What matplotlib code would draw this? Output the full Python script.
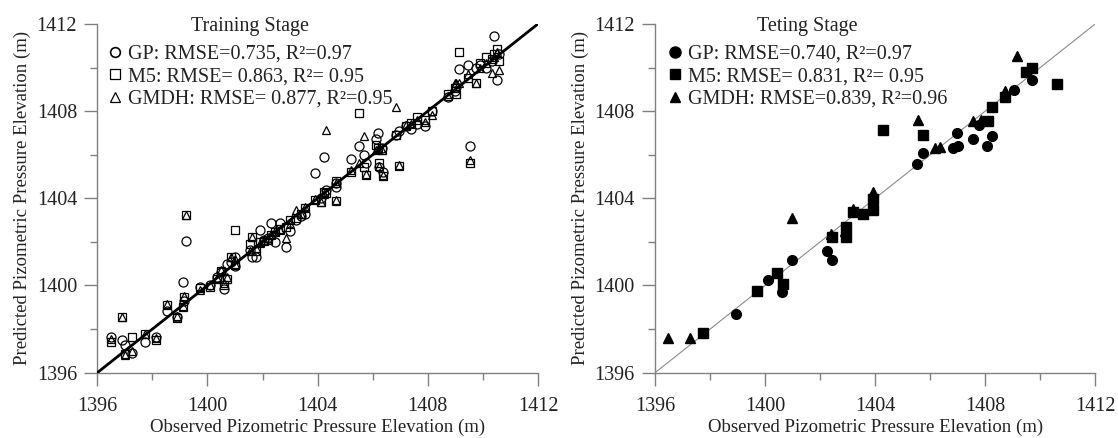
import matplotlib
matplotlib.use("Agg")
import matplotlib.pyplot as plt
from matplotlib.lines import Line2D
from matplotlib.ticker import MultipleLocator

plt.rcParams['font.family'] = ['Liberation Serif', 'DejaVu Serif']
plt.rcParams['mathtext.fontset'] = 'stix'

# ---------------- Training data ----------------
train_observed = [1396.5, 1396.9, 1397.0, 1397.25, 1397.73, 1398.15, 1398.54, 1398.88, 1399.12, 1399.15,
                  1399.21, 1399.72, 1400.08, 1400.33, 1400.5, 1400.6, 1400.7, 1400.87, 1400.99, 1401.0,
                  1401.53, 1401.6, 1401.78, 1401.9, 1402.05, 1402.2, 1402.32, 1402.45, 1402.62, 1402.86,
                  1403.0, 1403.2, 1403.4, 1403.53, 1403.89, 1404.13, 1404.24, 1404.29, 1404.65, 1404.67,
                  1405.22, 1405.52, 1405.7, 1405.76, 1406.12, 1406.2, 1406.24, 1406.35, 1406.39, 1406.85,
                  1406.97, 1407.2, 1407.4, 1407.6, 1407.9, 1408.16, 1408.72, 1409.0, 1409.02, 1409.14,
                  1409.47, 1409.54, 1409.75, 1409.9, 1410.1, 1410.34, 1410.41, 1410.53, 1410.6]
train_gp = [1397.65, 1397.5, 1397.27, 1396.89, 1397.42, 1397.65, 1398.84, 1398.55, 1400.15, 1399.3,
            1402.06, 1399.92, 1400.0, 1400.4, 1400.6, 1399.85, 1401.0, 1401.1, 1400.9, 1401.3,
            1401.63, 1401.3, 1401.32, 1402.55, 1402.1, 1402.2, 1402.85, 1402.0, 1402.85, 1401.78,
            1402.5, 1403.0, 1403.2, 1403.3, 1405.17, 1404.0, 1405.9, 1404.4, 1404.53, 1404.7,
            1405.79, 1406.4, 1405.99, 1405.6, 1406.7, 1407.0, 1405.42, 1406.3, 1405.2, 1406.9,
            1407.1, 1407.3, 1407.2, 1407.4, 1407.3, 1408.0, 1408.66, 1408.9, 1409.1, 1409.93,
            1410.11, 1406.4, 1409.99, 1410.1, 1410.0, 1410.3, 1411.45, 1409.43, 1410.6]
train_m5 = [1397.42, 1398.57, 1396.85, 1397.65, 1397.78, 1397.5, 1399.1, 1398.5, 1399.03, 1399.49,
            1403.23, 1399.9, 1399.92, 1400.3, 1400.65, 1400.0, 1400.3, 1401.32, 1402.55, 1400.94,
            1401.9, 1402.24, 1401.6, 1402.0, 1402.05, 1402.1, 1402.3, 1402.45, 1402.6, 1402.7,
            1403.0, 1403.1, 1403.3, 1403.54, 1403.9, 1403.84, 1404.3, 1404.25, 1403.89, 1404.8,
            1405.22, 1407.9, 1405.45, 1405.07, 1406.45, 1406.3, 1405.6, 1406.2, 1405.02, 1406.9,
            1405.48, 1407.3, 1407.45, 1407.74, 1407.6, 1408.0, 1408.8, 1409.05, 1408.77, 1410.73,
            1409.5, 1405.6, 1409.27, 1410.2, 1410.5, 1410.4, 1410.6, 1410.85, 1410.3]
train_gmdh = [1397.55, 1398.57, 1396.8, 1397.0, 1397.78, 1397.6, 1399.15, 1398.6, 1399.05, 1399.5,
              1403.23, 1399.8, 1400.0, 1400.35, 1400.7, 1400.1, 1400.4, 1401.3, 1401.0, 1401.2,
              1401.6, 1402.24, 1401.7, 1401.95, 1402.1, 1402.2, 1402.35, 1402.5, 1402.55, 1402.2,
              1402.8, 1403.46, 1403.3, 1403.6, 1403.95, 1403.84, 1404.2, 1407.13, 1403.9, 1404.69,
              1405.3, 1405.6, 1406.86, 1405.1, 1406.2, 1406.25, 1405.5, 1406.2, 1405.05, 1408.2,
              1405.55, 1407.35, 1407.4, 1407.6, 1407.5, 1407.82, 1408.7, 1409.27, 1409.27, 1409.3,
              1409.7, 1405.75, 1409.3, 1410.0, 1410.2, 1409.75, 1410.5, 1410.7, 1409.9]

# ---------------- Testing data ----------------
test_gp_obs = [1398.93, 1400.12, 1400.63, 1400.99, 1402.24, 1402.42, 1403.2, 1403.91, 1403.91, 1405.51,
               1405.75, 1406.82, 1407.02, 1406.96, 1407.57, 1407.77, 1408.07, 1408.23, 1409.06, 1409.69]
test_gp_pred = [1398.69, 1400.25, 1399.69, 1401.17, 1401.6, 1401.17, 1403.39, 1403.5, 1403.7, 1405.56,
                1406.06, 1406.32, 1406.41, 1406.98, 1406.71, 1407.36, 1406.4, 1406.86, 1408.97, 1409.43]
test_m5_obs = [1397.73, 1399.69, 1400.42, 1400.64, 1402.42, 1402.93, 1402.93, 1403.2, 1403.57, 1403.91,
               1403.91, 1404.27, 1405.75, 1408.09, 1408.23, 1408.72, 1409.48, 1409.69, 1410.6]
test_m5_pred = [1397.83, 1399.76, 1400.56, 1400.07, 1402.21, 1402.67, 1402.24, 1403.39, 1403.27, 1403.95,
                1403.45, 1407.13, 1406.9, 1407.56, 1408.2, 1408.66, 1409.81, 1409.96, 1409.24]
test_gmdh_obs = [1396.48, 1397.27, 1400.99, 1402.4, 1402.9, 1403.2, 1403.91, 1405.57, 1406.17, 1406.36,
                 1407.57, 1407.84, 1408.72, 1409.17]
test_gmdh_pred = [1397.58, 1397.58, 1403.08, 1402.35, 1402.5, 1403.5, 1404.3, 1407.59, 1406.29, 1406.34,
                  1407.56, 1407.59, 1408.94, 1410.53]

axis_min, axis_max = 1396, 1412
ticks = [1396, 1400, 1404, 1408, 1412]
xlabel = "Observed Pizometric Pressure Elevation (m)"
ylabel = "Predicted Pizometric Pressure Elevation (m)"

train_labels = ["GP: RMSE=0.735, R\u00b2=0.97", "M5: RMSE= 0.863, R\u00b2= 0.95", "GMDH: RMSE= 0.877, R\u00b2=0.95"]
test_labels = ["GP: RMSE=0.740, R\u00b2=0.97", "M5: RMSE= 0.831, R\u00b2= 0.95", "GMDH: RMSE=0.839, R\u00b2=0.96"]

fig = plt.figure(figsize=(11.18, 4.38), dpi=100)
ax1 = fig.add_axes([0.0870, 0.1491, 0.3942, 0.7963])
ax2 = fig.add_axes([0.5859, 0.1491, 0.3938, 0.7963])

spine_col = '#808080'
txt_col = '#222222'


def style(ax):
    ax.set_xlim(axis_min, axis_max)
    ax.set_ylim(axis_min, axis_max)
    ax.set_xticks(ticks)
    ax.set_yticks(ticks)
    ax.xaxis.set_minor_locator(MultipleLocator(2))
    ax.yaxis.set_minor_locator(MultipleLocator(2))
    for s in ['top', 'right']:
        ax.spines[s].set_visible(False)
    for s in ['left', 'bottom']:
        ax.spines[s].set_color(spine_col)
        ax.spines[s].set_linewidth(1.0)
    ax.tick_params(which='major', direction='out', length=9.5, width=1.0, color=spine_col,
                   labelsize=14.5, labelcolor=txt_col)
    ax.tick_params(axis='x', which='major', pad=8)
    ax.tick_params(axis='y', which='major', pad=5)
    ax.tick_params(which='minor', direction='out', length=5, width=1.0, color=spine_col)
    ax.set_xlabel(xlabel, fontsize=13.5, color=txt_col, labelpad=2)
    ax.set_ylabel(ylabel, fontsize=13.5, color=txt_col, labelpad=4)


ms = 6.5
# Training
ax1.plot([axis_min, axis_max], [axis_min, axis_max], color='black', lw=2.0, zorder=3)
ax1.plot(train_observed, train_gp, linestyle='none', marker='o', ms=ms, mfc='none', mec='black', mew=0.9, zorder=4)
ax1.plot(train_observed, train_m5, linestyle='none', marker='s', ms=ms - 0.5, mfc='none', mec='black', mew=0.9, zorder=4)
ax1.plot(train_observed, train_gmdh, linestyle='none', marker='^', ms=ms - 1, mfc='none', mec='black', mew=0.9, zorder=4)
style(ax1)

h1 = [Line2D([], [], linestyle='none', marker='o', ms=7, mfc='none', mec='black', mew=1.2),
      Line2D([], [], linestyle='none', marker='s', ms=7, mfc='none', mec='black', mew=0.9),
      Line2D([], [], linestyle='none', marker='^', ms=7, mfc='none', mec='black', mew=0.9)]
leg1 = ax1.legend(h1, train_labels, title="Training Stage", loc='upper left', bbox_to_anchor=(0.015, 1.03),
                  frameon=False, fontsize=14.5, title_fontsize=14.5, handlelength=0.7, handletextpad=0.3,
                  labelspacing=0.16, borderpad=0.2, borderaxespad=0)
leg1._legend_box.sep = 6
for t in leg1.get_texts():
    t.set_color(txt_col)
leg1.get_title().set_color(txt_col)

# Testing
ax2.plot([axis_min, axis_max], [axis_min, axis_max], color='#8a8a8a', lw=0.8, zorder=3)
ax2.plot(test_gp_obs, test_gp_pred, linestyle='none', marker='o', ms=7, mfc='black', mec='black', zorder=4)
ax2.plot(test_m5_obs, test_m5_pred, linestyle='none', marker='s', ms=6.8, mfc='black', mec='black', zorder=4)
ax2.plot(test_gmdh_obs, test_gmdh_pred, linestyle='none', marker='^', ms=6.5, mfc='black', mec='black', zorder=4)
style(ax2)

h2 = [Line2D([], [], linestyle='none', marker='o', ms=8, mfc='black', mec='black'),
      Line2D([], [], linestyle='none', marker='s', ms=7.5, mfc='black', mec='black'),
      Line2D([], [], linestyle='none', marker='^', ms=7.5, mfc='black', mec='black')]
leg2 = ax2.legend(h2, test_labels, title="Teting Stage", loc='upper left', bbox_to_anchor=(0.02, 1.03),
                  frameon=False, fontsize=14.5, title_fontsize=14.5, handlelength=0.7, handletextpad=0.3,
                  labelspacing=0.16, borderpad=0.2, borderaxespad=0)
leg2._legend_box.sep = 6
for t in leg2.get_texts():
    t.set_color(txt_col)
leg2.get_title().set_color(txt_col)

fig.savefig("out.png", dpi=100)
